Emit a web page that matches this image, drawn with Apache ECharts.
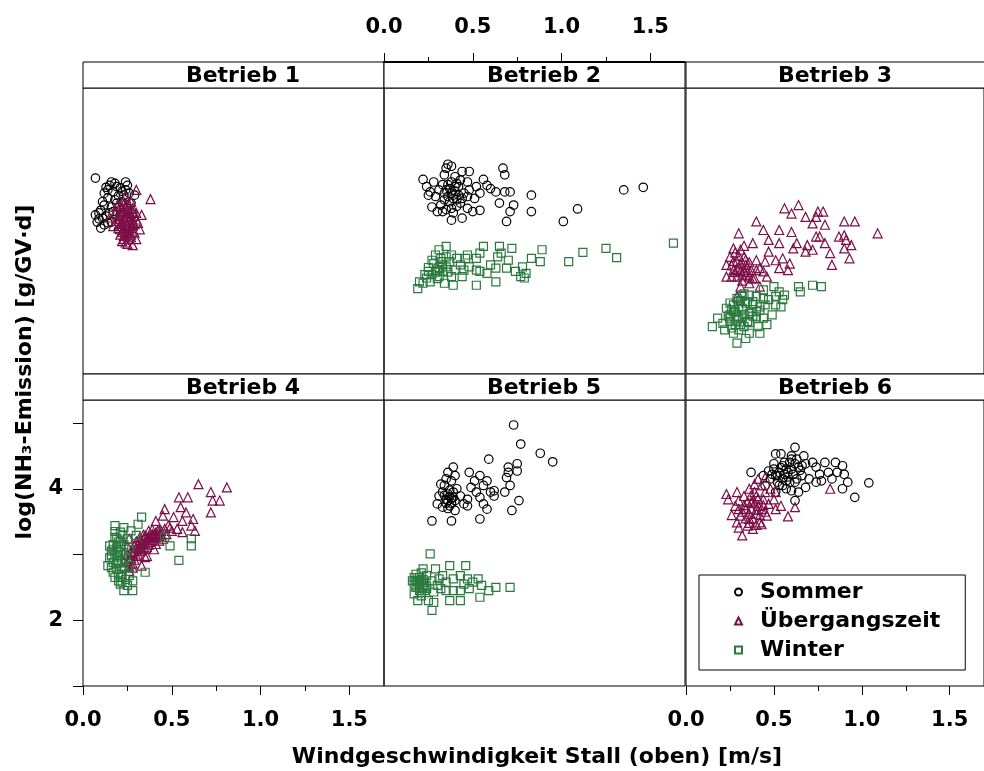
<!DOCTYPE html>
<html>
<head>
<meta charset="utf-8">
<script src="https://cdn.jsdelivr.net/npm/echarts@6/dist/echarts.min.js"></script>
<style>
html,body{margin:0;padding:0;background:#fff;}
#chart{width:984px;height:771px;}
</style>
</head>
<body>
<div id="chart"></div>
<script>
// ---------- data ----------
const panels = ['Betrieb 1','Betrieb 2','Betrieb 3','Betrieb 4','Betrieb 5','Betrieb 6'];
const seasons = ['Sommer','Übergangszeit','Winter'];
const xTicks = [0, 0.5, 1, 1.5];
const xMinorTicks = [0.25, 0.75, 1.25];
const yTicks = [1, 2, 3, 4, 5];
const yLabels = [2, 4];
const xTitle = 'Windgeschwindigkeit Stall (oben) [m/s]';
const yTitle = 'log(NH₃-Emission) [g/GV·d]';

const b1_sommer = [[.07,3.98],[.15,3.87],[.18,3.90],[.21,3.83],[.24,3.92],[.25,3.87],[.17,3.77],[.20,3.71],[.14,3.68],[.23,3.72],[.26,3.75],[.12,3.57],[.16,3.54],[.10,3.49],[.07,3.42],[.11,3.37],[.15,3.45],[.08,3.31],[.12,3.27],[.16,3.31],[.20,3.19],[.23,3.14],[.26,3.27],[.28,3.42],[.25,3.52],[.21,3.42],[.18,3.65],[.22,3.62],[.29,3.72],[.14,3.80],[.10,3.22],[.13,3.84],[.19,3.60],[.09,3.36],[.27,3.60],[.17,3.47],[.16,3.92],[.19,3.85],[.22,3.78],[.12,3.75],[.24,3.80],[.11,3.62],[.09,3.45],[.13,3.40],[.14,3.30]];
const b1_ueber = [[.30,3.80],[.38,3.66],[.24,3.70],[.27,3.62],[.20,3.58],[.22,3.52],[.25,3.50],[.28,3.47],[.18,3.45],[.21,3.42],[.24,3.40],[.27,3.38],[.30,3.35],[.19,3.33],[.22,3.30],[.25,3.28],[.28,3.26],[.31,3.30],[.20,3.22],[.23,3.20],[.26,3.18],[.29,3.15],[.21,3.12],[.24,3.10],[.27,3.08],[.30,3.05],[.22,3.02],[.25,2.98],[.28,2.96],[.17,3.25],[.15,3.38],[.32,3.20],[.26,3.35],[.23,3.48],[.29,3.40],[.19,3.55],[.26,3.56],[.24,3.25],[.27,3.12],[.23,3.05],[.33,3.42],[.21,3.36],[.25,3.44],[.28,3.31],[.22,3.16],[.21,3.55],[.23,3.58],[.26,3.46],[.24,3.33],[.27,3.22],[.25,3.14],[.22,3.25],[.29,3.28],[.23,3.37],[.26,3.05],[.24,3.00],[.21,3.28],[.28,3.52],[.25,3.62],[.22,3.45],[.27,3.43],[.30,3.45],[.20,3.40],[.23,3.10],[.26,3.24]];
const b2_sommer = [[.36,4.19],[.38,4.16],[.44,4.08],[.48,4.08],[.34,4.03],[.40,4.00],[.22,3.96],[.28,3.92],[.43,3.95],[.56,3.96],[.24,3.85],[.26,3.77],[.31,3.80],[.35,3.80],[.38,3.75],[.42,3.85],[.45,3.75],[.48,3.80],[.52,3.85],[.58,3.87],[.60,3.82],[.63,3.77],[.68,3.77],[.71,3.77],[.25,3.72],[.29,3.70],[.34,3.65],[.39,3.67],[.44,3.67],[.47,3.70],[.51,3.67],[.54,3.75],[.27,3.54],[.30,3.47],[.32,3.57],[.38,3.52],[.43,3.60],[.47,3.52],[.50,3.47],[.54,3.49],[.38,3.34],[.44,3.37],[.33,3.47],[.65,3.60],[.73,3.57],[.71,3.47],[.83,3.72],[.83,3.47],[.69,3.32],[.67,4.13],[.68,4.03],[1.01,3.32],[1.09,3.51],[1.35,3.80],[1.46,3.84],[.35,4.13],[.41,3.90],[.47,3.92],[.36,3.70],[.40,3.78],[.37,3.62],[.41,3.55],[.35,3.50],[.39,3.45],[.42,3.72],[.33,3.88],[.37,3.82],[.39,3.72],[.36,3.88],[.40,3.85],[.38,3.92],[.41,3.65],[.34,3.75]];
const b2_winter = [[.19,2.30],[.22,2.38],[.24,2.46],[.27,2.51],[.20,2.40],[.30,2.58],[.31,2.48],[.33,2.56],[.35,2.63],[.37,2.71],[.32,2.71],[.29,2.81],[.31,2.89],[.35,2.94],[.38,2.81],[.41,2.76],[.43,2.66],[.40,2.58],[.38,2.48],[.39,2.35],[.45,2.58],[.46,2.76],[.47,2.81],[.52,2.76],[.54,2.84],[.56,2.94],[.52,2.58],[.54,2.56],[.60,2.66],[.64,2.78],[.65,2.94],[.66,2.84],[.70,2.73],[.69,2.61],[.72,2.91],[.74,2.56],[.78,2.63],[.80,2.53],[.79,2.46],[.83,2.76],[.88,2.71],[.89,2.89],[.63,2.40],[.52,2.35],[1.04,2.71],[1.12,2.85],[1.25,2.91],[1.31,2.77],[1.63,2.99],[.25,2.56],[.34,2.38],[.32,2.76],[.27,2.73],[.44,2.48],[.48,2.63],[.58,2.53],[.63,2.61],[.77,2.48],[.23,2.51],[.35,2.78],[.25,2.62],[.28,2.68],[.30,2.45],[.33,2.66],[.36,2.55],[.26,2.40],[.29,2.55],[.31,2.62]];
const b3_ueber = [[.64,3.57],[.56,3.52],[.60,3.44],[.68,3.39],[.75,3.47],[.78,3.47],[.74,3.39],[.40,3.32],[.44,3.19],[.53,3.19],[.60,3.16],[.72,3.29],[.79,3.27],[.90,3.32],[.96,3.32],[1.09,3.14],[.30,3.14],[.47,3.04],[.53,2.99],[.63,2.99],[.69,2.96],[.74,3.09],[.76,3.09],[.79,2.99],[.87,3.09],[.90,3.11],[.91,3.04],[.94,2.96],[.90,2.91],[.82,2.84],[.93,2.76],[.83,2.66],[.47,2.86],[.51,2.73],[.55,2.76],[.59,2.68],[.53,2.61],[.58,2.58],[.68,2.86],[.72,2.89],[.61,2.91],[.45,2.71],[.40,2.73],[.38,2.99],[.27,2.91],[.31,2.89],[.33,2.78],[.25,2.78],[.29,2.71],[.23,2.66],[.27,2.58],[.23,2.48],[.29,2.48],[.34,2.51],[.39,2.46],[.44,2.56],[.42,2.61],[.46,2.48],[.34,2.66],[.31,2.33],[.36,2.38],[.42,2.33],[.29,2.18],[.37,2.58],[.31,2.56],[.26,2.48],[.30,2.62],[.35,2.55],[.28,2.85],[.33,2.95],[.36,2.70],[.32,2.42],[.38,2.45],[.27,2.72],[.29,2.60],[.31,2.68],[.33,2.58],[.35,2.62],[.30,2.80],[.32,2.50],[.28,2.55],[.34,2.74],[.26,2.65],[.36,2.48],[.40,2.58]];
const b3_winter = [[.50,2.33],[.53,2.25],[.56,2.20],[.51,2.18],[.47,2.13],[.64,2.33],[.65,2.25],[.72,2.35],[.77,2.33],[.44,2.28],[.40,2.18],[.36,2.20],[.32,2.18],[.29,2.15],[.25,2.08],[.23,2.00],[.27,1.95],[.30,2.02],[.34,2.08],[.38,2.05],[.42,1.97],[.45,2.05],[.51,2.05],[.54,2.02],[.49,1.90],[.44,1.85],[.40,1.87],[.36,1.92],[.32,1.85],[.29,1.82],[.25,1.80],[.21,1.77],[.15,1.72],[.18,1.85],[.22,1.67],[.27,1.62],[.30,1.67],[.36,1.62],[.41,1.72],[.46,1.75],[.42,1.62],[.29,1.47],[.34,1.54],[.25,1.90],[.44,2.15],[.55,2.13],[.28,1.95],[.33,1.90],[.31,1.75],[.35,1.80],[.26,1.70],[.38,1.88],[.30,2.10],[.24,1.88],[.27,2.05],[.33,2.22],[.26,1.98],[.29,1.88],[.32,2.00],[.35,2.10],[.37,1.95],[.30,1.85],[.33,1.72],[.28,1.75],[.36,1.78],[.40,1.95],[.25,1.85],[.31,2.12],[.38,2.10],[.42,2.02]];
const b4_ueber = [[.65,4.07],[.81,4.02],[.54,3.87],[.59,3.87],[.72,3.95],[.73,3.82],[.77,3.82],[.72,3.64],[.46,3.69],[.61,3.44],[.63,3.36],[.55,3.72],[.58,3.64],[.51,3.57],[.56,3.51],[.62,3.54],[.53,3.39],[.45,3.59],[.41,3.51],[.49,3.41],[.56,3.34],[.43,3.36],[.39,3.29],[.26,2.83],[.26,2.93],[.28,3.03],[.29,3.13],[.31,3.08],[.32,3.21],[.34,3.16],[.35,3.29],[.37,3.24],[.39,3.31],[.41,3.26],[.42,3.36],[.44,3.31],[.46,3.39],[.48,3.44],[.50,3.36],[.30,2.98],[.33,3.06],[.36,3.11],[.38,3.19],[.41,3.16],[.28,2.86],[.35,2.96],[.40,3.08],[.45,3.24],[.32,3.26],[.37,3.36],[.25,3.13],[.26,3.24],[.23,2.88],[.26,2.75],[.33,2.83],[.36,2.98],[.43,3.21],[.47,3.31],[.25,2.90],[.27,2.95],[.28,3.00],[.29,3.05],[.30,3.10],[.31,3.15],[.32,3.12],[.33,3.20],[.34,3.22],[.35,3.18],[.36,3.25],[.37,3.28],[.38,3.27],[.39,3.22],[.40,3.30],[.41,3.33],[.43,3.28],[.44,3.36],[.27,3.05],[.29,2.92],[.31,3.00],[.33,3.10],[.35,3.08],[.37,3.15],[.30,3.20],[.34,3.30],[.39,3.38],[.28,2.80],[.25,3.00]];
const b4_winter = [[.33,3.57],[.31,3.46],[.23,3.41],[.21,3.34],[.18,3.26],[.20,3.19],[.17,3.08],[.16,2.98],[.14,2.83],[.19,2.86],[.17,2.73],[.21,2.65],[.22,2.58],[.25,2.53],[.23,2.45],[.28,2.45],[.28,2.60],[.35,2.73],[.54,2.91],[.61,3.24],[.61,3.13],[.49,3.13],[.46,3.26],[.21,3.03],[.24,2.93],[.26,3.08],[.25,3.24],[.19,2.96],[.22,2.78],[.26,2.83],[.15,3.13],[.27,3.36],[.30,3.29],[.18,3.44],[.26,2.68],[.20,2.60],[.19,3.10],[.22,2.90],[.17,2.88],[.21,3.20],[.24,3.00],[.20,2.70],[.18,3.00],[.23,2.80],[.17,3.15],[.18,3.35],[.16,3.05],[.19,2.78],[.20,2.90],[.21,3.12],[.22,3.30],[.15,2.95],[.18,2.65],[.20,3.05],[.23,3.15],[.16,2.80],[.19,3.25],[.22,2.70],[.24,2.62],[.21,2.55]];
const b5_sommer = [[.73,4.97],[.77,4.68],[.88,4.54],[.95,4.41],[.59,4.45],[.27,3.51],[.54,3.54],[.72,3.67],[.76,3.82],[.75,4.38],[.70,4.33],[.39,4.33],[.36,4.25],[.40,4.20],[.32,4.07],[.34,4.05],[.38,4.12],[.31,3.89],[.33,3.95],[.35,3.84],[.39,3.87],[.43,3.89],[.37,3.74],[.40,3.67],[.38,3.51],[.33,3.72],[.30,3.77],[.48,4.25],[.51,4.12],[.49,4.02],[.54,4.20],[.56,4.05],[.58,4.12],[.60,3.95],[.62,3.97],[.62,3.89],[.54,3.87],[.56,3.77],[.58,3.69],[.47,3.84],[.47,3.74],[.70,4.25],[.69,4.17],[.71,4.05],[.68,3.95],[.75,4.27],[.41,4.00],[.45,3.77],[.52,3.95],[.35,4.15],[.36,3.92],[.37,3.98],[.38,3.85],[.35,3.78],[.39,3.95],[.36,3.70],[.40,3.82],[.37,3.88],[.38,3.78],[.36,3.82],[.34,3.90]];
const b5_winter = [[.26,3.01],[.37,2.83],[.46,2.83],[.22,2.78],[.29,2.78],[.18,2.70],[.16,2.60],[.20,2.65],[.24,2.68],[.27,2.60],[.31,2.63],[.33,2.68],[.35,2.58],[.39,2.63],[.43,2.68],[.47,2.63],[.50,2.58],[.53,2.63],[.55,2.53],[.59,2.45],[.63,2.50],[.71,2.50],[.43,2.45],[.39,2.45],[.35,2.45],[.32,2.48],[.28,2.43],[.24,2.48],[.20,2.45],[.17,2.55],[.21,2.37],[.25,2.30],[.28,2.27],[.37,2.30],[.43,2.30],[.54,2.35],[.27,2.15],[.22,2.53],[.30,2.53],[.45,2.55],[.48,2.48],[.19,2.30],[.20,2.55],[.22,2.62],[.18,2.50],[.21,2.42],[.23,2.58],[.19,2.65],[.24,2.52],[.17,2.40],[.21,2.72],[.18,2.60],[.20,2.48],[.22,2.50],[.19,2.58],[.21,2.62],[.23,2.45],[.17,2.65]];
const b6_sommer = [[.51,4.53],[.54,4.53],[.62,4.63],[.60,4.50],[.63,4.45],[.67,4.50],[.59,4.40],[.55,4.35],[.50,4.38],[.47,4.27],[.37,4.25],[.44,4.20],[.51,4.20],[.56,4.22],[.60,4.30],[.64,4.33],[.68,4.38],[.72,4.40],[.74,4.33],[.79,4.40],[.85,4.40],[.89,4.35],[.81,4.25],[.86,4.25],[.90,4.22],[.92,4.10],[.89,4.00],[.96,3.87],[1.04,4.09],[.77,4.12],[.74,4.10],[.70,4.15],[.66,4.20],[.62,4.10],[.59,4.10],[.57,4.00],[.60,3.97],[.53,4.05],[.64,3.95],[.68,4.02],[.62,3.82],[.51,3.95],[.76,4.22],[.83,4.15],[.55,4.15],[.58,4.25],[.52,4.10],[.48,4.15],[.57,4.30],[.45,4.05],[.50,4.30],[.53,4.25],[.56,4.40],[.58,4.18],[.61,4.22],[.63,4.15],[.65,4.28],[.55,4.05],[.52,4.20],[.60,4.45],[.66,4.35],[.49,4.22],[.57,4.12],[.62,4.38],[.54,4.32]];
const b6_ueber = [[.82,4.00],[.62,3.72],[.58,3.58],[.43,3.46],[.32,3.29],[.23,3.92],[.26,3.60],[.24,3.84],[.29,3.95],[.30,3.82],[.33,3.89],[.36,4.00],[.39,4.07],[.41,4.15],[.43,4.05],[.45,3.95],[.44,3.84],[.40,3.89],[.37,3.79],[.34,3.69],[.31,3.59],[.29,3.49],[.30,3.41],[.36,3.54],[.40,3.62],[.43,3.69],[.47,3.77],[.50,3.84],[.51,3.69],[.54,3.74],[.46,3.59],[.42,3.49],[.38,3.39],[.35,3.44],[.48,4.00],[.51,3.95],[.45,4.17],[.41,3.74],[.30,3.69],[.28,3.74],[.33,3.75],[.35,3.80],[.37,3.70],[.39,3.78],[.41,3.85],[.36,3.62],[.38,3.55],[.40,3.68],[.42,3.60],[.44,3.75],[.34,3.55],[.37,3.90],[.39,3.95],[.32,3.65],[.36,3.48],[.40,3.45],[.45,3.65],[.38,3.82]];

const seriesByPanel = [
  [b1_sommer, b1_ueber, null],
  [b2_sommer, null, b2_winter],
  [null, b3_ueber, b3_winter],
  [null, b4_ueber, b4_winter],
  [b5_sommer, null, b5_winter],
  [b6_sommer, b6_ueber, null]
];

// ---------- layout / style ----------
const FONT = 'DejaVu Sans';
const COLS = [83, 384, 686];
const ROWS = [88, 400];
const PW = 301, PH = 286, STRIP = 26;
const XMAX = 1.695, YMIN = 1, YMAX = 5.35;
const colors = ['#000000', '#7d0f47', '#2a7a3e'];
const symbols = ['circle', 'triangle', 'rect'];
const symSizes = [8.5, 9, 8];
const stripCenters = [243, 544, 835];

const grid = [], xAxis = [], yAxis = [], series = [], graphic = [];
const labelStyle = {fontFamily: FONT, fontWeight: 'bold', fontSize: 21, color: '#000'};

for (let i = 0; i < 6; i++) {
  const c = i % 3, r = Math.floor(i / 3);
  grid.push({left: COLS[c], top: ROWS[r], width: PW, height: PH, show: true,
    borderColor: '#000', borderWidth: 1, backgroundColor: 'transparent'});
  const hasX = (i === 1 || i === 3 || i === 5);
  const isTop = i === 1;
  xAxis.push({
    gridIndex: i, type: 'value', min: 0, max: XMAX, z: 20,
    position: isTop ? 'top' : 'bottom', offset: isTop ? STRIP : 0,
    axisLine: {show: isTop, onZero: false, lineStyle: {color: '#000', width: 2}},
    splitLine: {show: false},
    axisTick: {show: hasX, inside: false, length: 9, lineStyle: {color: '#000', width: 1}, customValues: xTicks},
    axisLabel: Object.assign({show: hasX, margin: 24, customValues: xTicks,
      formatter: v => Number(v).toFixed(1)}, labelStyle)
  });
  const hasY = (i === 3);
  yAxis.push({
    gridIndex: i, type: 'value', min: YMIN, max: YMAX, position: 'left',
    axisLine: {show: false}, splitLine: {show: false},
    axisTick: {show: hasY, inside: false, length: 10, lineStyle: {color: '#000', width: 1}, customValues: yTicks},
    axisLabel: Object.assign({show: hasY, margin: 20, customValues: yLabels,
      formatter: v => String(v)}, labelStyle)
  });
  // strips
  graphic.push({type: 'rect', silent: true, z: 10,
    shape: {x: COLS[c], y: ROWS[r] - STRIP, width: PW, height: STRIP},
    style: {fill: '#fff', stroke: '#000', lineWidth: 1}});
  graphic.push({type: 'text', silent: true, z: 11,
    x: stripCenters[c], y: ROWS[r] - STRIP / 2 + 1,
    style: {text: panels[i], fontFamily: FONT, fontWeight: 'bold', fontSize: 22,
      fill: '#000', align: 'center', verticalAlign: 'middle'}});
}
// minor ticks on panels with axes
[1, 3, 5].forEach(i => {
  const isTop = i === 1;
  xAxis.push({
    gridIndex: i, type: 'value', min: 0, max: XMAX, z: 20,
    position: isTop ? 'top' : 'bottom', offset: isTop ? STRIP : 0,
    axisLine: {show: false, onZero: false}, splitLine: {show: false},
    axisTick: {show: true, inside: false, length: 5, lineStyle: {color: '#000', width: 1}, customValues: xMinorTicks},
    axisLabel: {show: false}
  });
});

for (let s = 0; s < 3; s++) {
  for (let i = 0; i < 6; i++) {
    const d = seriesByPanel[i][s];
    if (!d) continue;
    series.push({
      type: 'scatter', name: seasons[s], xAxisIndex: i, yAxisIndex: i,
      data: d, symbol: symbols[s], symbolSize: symSizes[s], silent: true,
      itemStyle: {color: 'rgba(255,255,255,0)', borderColor: colors[s], borderWidth: 1.2, opacity: 1},
      emphasis: {disabled: true}, z: 2 + s
    });
  }
}

graphic.push({type: 'text', silent: true, x: 537, y: 757,
  style: {text: xTitle, fontFamily: FONT, fontWeight: 'bold', fontSize: 22, fill: '#000',
    align: 'center', verticalAlign: 'middle'}});
graphic.push({type: 'text', silent: true, x: 25, y: 372, rotation: Math.PI / 2,
  style: {text: yTitle, fontFamily: FONT, fontWeight: 'bold', fontSize: 22, fill: '#000',
    align: 'center', verticalAlign: 'middle'}});

const chart = echarts.init(document.getElementById('chart'), null, {renderer: 'canvas'});
chart.setOption({
  backgroundColor: '#fff',
  animation: false,
  grid, xAxis, yAxis, series, graphic,
  legend: {
    data: seasons, orient: 'vertical', left: 699, top: 575,
    padding: [6, 25, 9, 35], itemGap: 7, itemWidth: 7, itemHeight: 7,
    borderColor: '#000', borderWidth: 1, backgroundColor: '#fff',
    selectedMode: false,
    textStyle: {fontFamily: FONT, fontWeight: 'bold', fontSize: 22, color: '#000', padding: [0, 0, 0, 13]}
  }
});
</script>
</body>
</html>
